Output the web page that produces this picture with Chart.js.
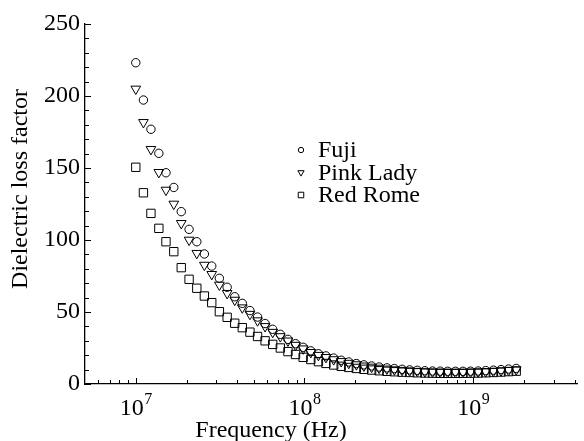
<!DOCTYPE html>
<html>
<head>
<meta charset="utf-8">
<title>Dielectric loss factor</title>
<script src="https://cdn.jsdelivr.net/npm/chart.js"></script>
<style>html,body{margin:0;padding:0;background:#fff}</style>
</head>
<body>
<canvas id="chart" width="584" height="441"></canvas>
<script>
// frequencies (MHz)
const freqMHz = [10, 11.1, 12.3, 13.7, 15.1, 16.8, 18.6, 20.7, 23.0, 25.5, 28.2, 31.3, 34.8, 38.6, 42.8,
  47.5, 52.7, 58.4, 64.8, 71.9, 79.8, 88.5, 98.2, 109, 121, 134, 149, 165, 183, 203,
  225, 250, 277, 308, 341, 379, 420, 466, 517, 574, 637, 706, 784, 870, 965,
  1070, 1187, 1317, 1462, 1621, 1799];
const fuji = [223.1, 197.2, 176.9, 160.2, 146.7, 136.5, 119.7, 107.4, 98.8, 90.3, 81.9, 73.4, 67.2, 60.6, 56.0,
  51, 46.5, 42, 38, 34.5, 31, 28, 25.5, 23, 21, 19.5, 18, 16.5, 15.3, 14.2,
  13.3, 12.5, 11.8, 11.2, 10.7, 10.2, 9.8, 9.5, 9.2, 9.0, 8.9, 8.8, 8.8, 8.8, 8.9,
  9.0, 9.3, 9.6, 10.0, 10.4, 10.8];
const pinkLady = [204.9, 181.7, 163.0, 147.0, 134.7, 125.0, 111.6, 100, 90.8, 82.6, 76.2, 68.8, 63.0, 58.3, 53.0,
  48.5, 44, 40, 36, 33, 30, 27, 24.5, 22, 20, 18.5, 17, 15.7, 14.5, 13.5,
  12.6, 11.8, 11.1, 10.5, 10, 9.6, 9.2, 8.9, 8.6, 8.4, 8.3, 8.2, 8.2, 8.2, 8.3,
  8.4, 8.6, 8.9, 9.2, 9.6, 10.0];
const redRome = [150.5, 132.8, 118.5, 108.1, 98.8, 91.9, 80.8, 72.7, 66.5, 61.1, 56.5, 50.2, 46.3, 42.2, 39.1,
  36, 33, 30, 27.5, 25, 22.5, 20.5, 18.5, 17, 15.5, 14.3, 13.2, 12.3, 11.5, 10.8,
  10.2, 9.7, 9.2, 8.8, 8.5, 8.2, 8.0, 7.8, 7.6, 7.5, 7.4, 7.4, 7.4, 7.4, 7.5,
  7.6, 7.8, 8.0, 8.3, 8.6, 8.9];
const seriesNames = ['Fuji', 'Pink Lady', 'Red Rome'];
const xMajorTicks = [1e7, 1e8, 1e9];
const xMinorTicks = [6e6, 7e6, 8e6, 9e6, 2e7, 3e7, 4e7, 5e7, 6e7, 7e7, 8e7, 9e7,
  2e8, 3e8, 4e8, 5e8, 6e8, 7e8, 8e8, 9e8, 2e9, 3e9, 4e9];
const yMajorStep = 50;
const yMinorStep = 10;

const FONT = '"Liberation Serif", "DejaVu Serif", serif';
const styles = [
  {pointStyle: 'circle', rotation: 0, radius: 4.2, legendRadius: 2.7},
  {pointStyle: 'triangle', rotation: 180, radius: 5.6, legendRadius: 3.6},
  {pointStyle: 'rect', rotation: 0, radius: 5.9, legendRadius: 3.9}
];

function toPoints(vals) {
  return freqMHz.map((f, i) => ({x: f * 1e6, y: vals[i]}));
}

const datasets = [fuji, pinkLady, redRome].map((vals, i) => ({
  label: seriesNames[i],
  data: toPoints(vals),
  showLine: false,
  pointStyle: styles[i].pointStyle,
  pointRotation: styles[i].rotation,
  pointRadius: styles[i].radius,
  pointBorderWidth: 1,
  pointBorderColor: '#000',
  pointBackgroundColor: 'rgba(0,0,0,0)'
}));

// inward ticks, decade labels, axis titles and legend
const decor = {
  id: 'decor',
  afterDraw(chart) {
    const {ctx, chartArea: a, scales: {x, y}} = chart;
    ctx.save();
    ctx.strokeStyle = '#000';
    ctx.lineWidth = 1;
    ctx.beginPath();
    xMajorTicks.forEach(v => {
      const px = Math.round(x.getPixelForValue(v)) + 0.5;
      ctx.moveTo(px, a.bottom); ctx.lineTo(px, a.bottom - 6);
    });
    xMinorTicks.forEach(v => {
      const px = Math.round(x.getPixelForValue(v)) + 0.5;
      ctx.moveTo(px, a.bottom); ctx.lineTo(px, a.bottom - 4);
    });
    for (let v = 0; v <= y.max; v += yMinorStep) {
      const py = Math.round(y.getPixelForValue(v)) + 0.5;
      const len = v % yMajorStep === 0 ? 6 : 4;
      ctx.moveTo(a.left, py); ctx.lineTo(a.left + len, py);
    }
    ctx.stroke();

    ctx.fillStyle = '#000';
    ctx.textBaseline = 'alphabetic';
    xMajorTicks.forEach(v => {
      const px = x.getPixelForValue(v);
      const exp = String(Math.round(Math.log10(v)));
      ctx.font = '24px ' + FONT;
      const w1 = ctx.measureText('10').width;
      ctx.font = '16px ' + FONT;
      const w2 = ctx.measureText(exp).width;
      const x0 = px - (w1 + w2) / 2;
      ctx.textAlign = 'left';
      ctx.font = '24px ' + FONT;
      ctx.fillText('10', x0, a.bottom + 31);
      ctx.font = '16px ' + FONT;
      ctx.fillText(exp, x0 + w1 + 0.5, a.bottom + 20);
    });

    ctx.font = '24px ' + FONT;
    ctx.textAlign = 'center';
    ctx.fillText('Frequency (Hz)', 271, 437);
    ctx.save();
    ctx.translate(27, 189);
    ctx.rotate(-Math.PI / 2);
    ctx.fillText('Dielectric loss factor', 0, 0);
    ctx.restore();

    ctx.textAlign = 'left';
    seriesNames.forEach((name, i) => {
      const cy = 150 + i * 22.5;
      ctx.fillStyle = '#fff';
      ctx.strokeStyle = '#000';
      Chart.helpers.drawPoint(ctx, {
        pointStyle: styles[i].pointStyle,
        rotation: styles[i].rotation,
        radius: styles[i].legendRadius,
        borderWidth: 1
      }, 301, cy);
      ctx.fillStyle = '#000';
      ctx.fillText(name, 318, cy + 7);
    });
    ctx.restore();
  }
};

new Chart(document.getElementById('chart'), {
  type: 'scatter',
  data: {datasets},
  options: {
    responsive: false,
    animation: false,
    devicePixelRatio: 1,
    layout: {padding: {top: 24, right: 0, left: 0, bottom: 0}},
    plugins: {legend: {display: false}, tooltip: {enabled: false}},
    scales: {
      x: {
        type: 'logarithmic',
        min: 5e6,
        max: 4.13e9,
        grid: {display: false, drawTicks: false},
        border: {display: true, color: '#000', width: 1.3},
        ticks: {display: false},
        afterBuildTicks(s) { s.ticks = xMajorTicks.map(v => ({value: v})); },
        afterFit(s) { s.height = 57; }
      },
      y: {
        min: 0,
        max: 250,
        grid: {display: false, drawTicks: false},
        border: {display: true, color: '#000', width: 1.3},
        ticks: {stepSize: yMajorStep, padding: 5, color: '#000', font: {family: FONT, size: 24}},
        afterFit(s) { s.width = 85; }
      }
    }
  },
  plugins: [decor]
});
</script>
</body>
</html>
